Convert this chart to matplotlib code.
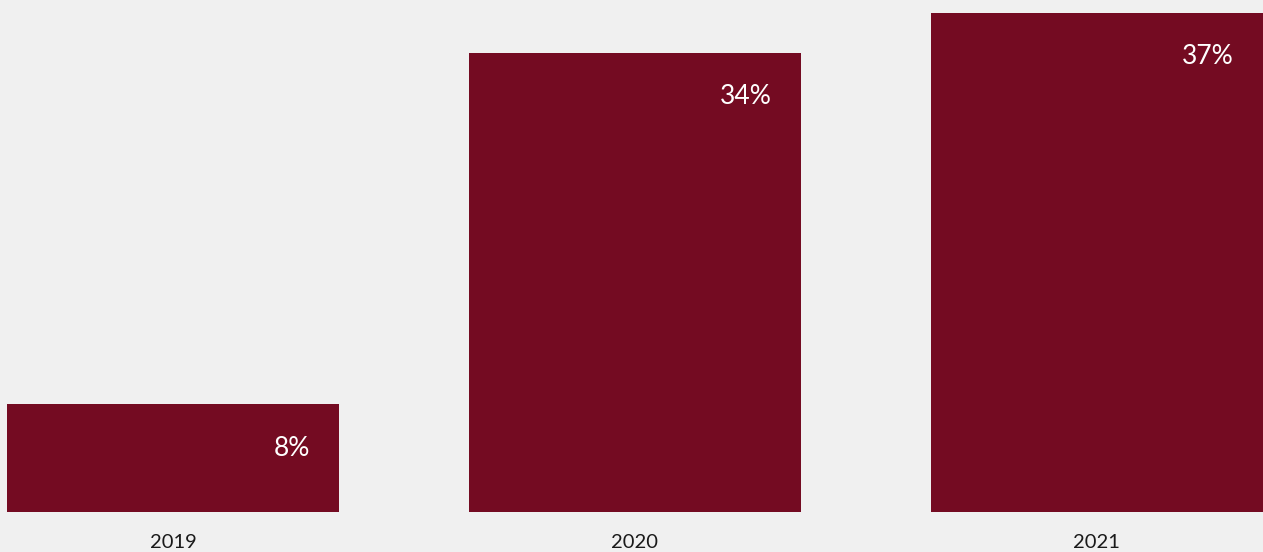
import matplotlib
matplotlib.use("Agg")
import matplotlib.pyplot as plt
from matplotlib.transforms import offset_copy

years = ["2019", "2020", "2021"]
shares = [8, 34, 37]
labels = ["8%", "34%", "37%"]

BG = "#f0f0f0"
BAR = "#740b22"
W, H = 1263, 552

fig = plt.figure(figsize=(W / 100, H / 100), dpi=100, facecolor=BG)
# axes: x from px 7 to 1263, y from px 0 to 512
ax = fig.add_axes([7 / W, (H - 512) / H, (W - 7) / W, 512 / H])
ax.set_facecolor(BG)

width = 0.72
x = list(range(len(years)))
ax.bar(x, shares, width=width, color=BAR)
ax.set_xlim(-width / 2, len(years) - 1 + width / 2)
ax.set_ylim(0, 512 / 13.5)

for xi, v, lab in zip(x, shares, labels):
    tr = offset_copy(ax.transData, fig=fig, x=-29, y=-44, units="dots")
    ax.text(xi + width / 2, v, lab, transform=tr, ha="right", va="center",
            color="white", fontsize=19, family="Lato")
    tr2 = offset_copy(ax.transData, fig=fig, x=0, y=-30, units="dots")
    ax.text(xi, 0, years[xi], transform=tr2, ha="center", va="center",
            color="#1a1a1a", fontsize=14.5, family="Lato")

for s in ax.spines.values():
    s.set_visible(False)
ax.set_xticks([])
ax.set_yticks([])

fig.savefig("out.png", dpi=100, facecolor=BG)
